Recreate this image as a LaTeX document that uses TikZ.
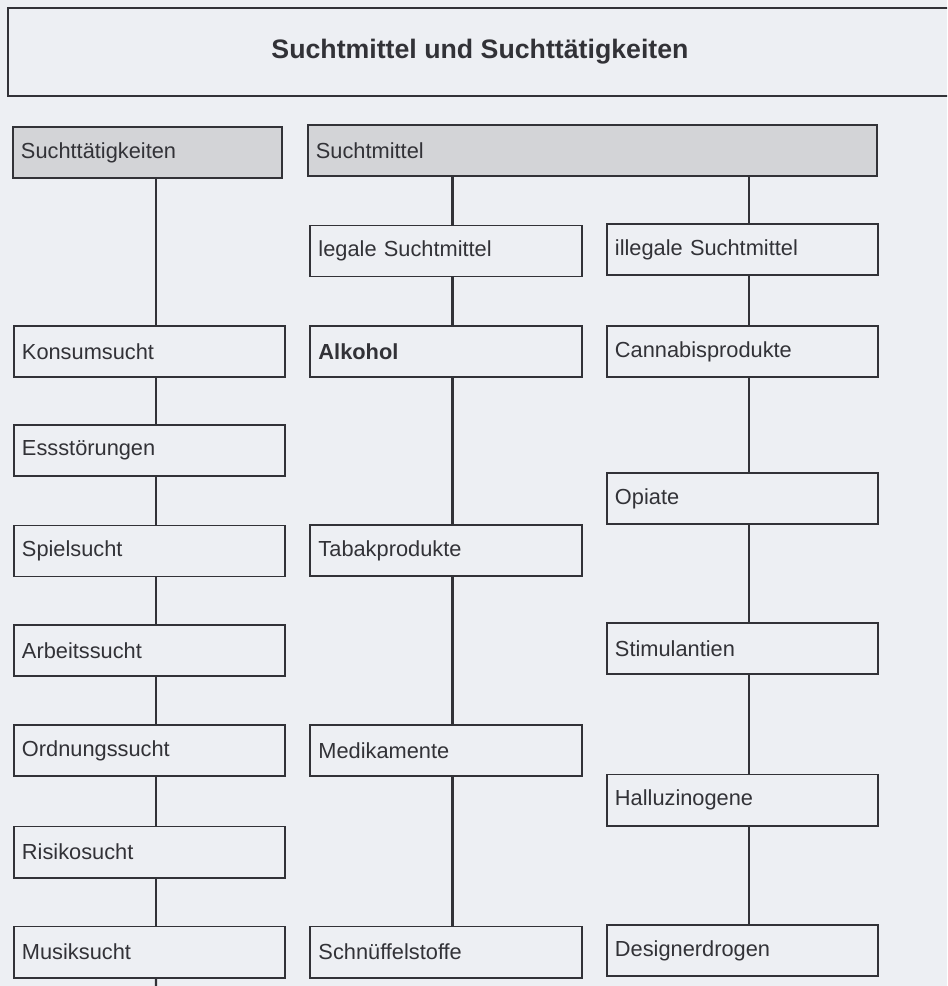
\documentclass[tikz,border=0pt]{standalone}
\usepackage{fontspec}
\setmainfont{Liberation Sans}
\usepackage{tikz}

\definecolor{paper}{RGB}{237,239,243}
\definecolor{headgray}{RGB}{211,212,215}
\definecolor{ink}{RGB}{50,50,55}

\tikzstyle{itembox}=[draw=ink,line width=1.4pt,text=ink,inner xsep=0.2cm,text width=6.375cm,align=left,minimum width=6.775cm,minimum height=1.275cm,font=\fontsize{15.5pt}{18pt}\selectfont]
\tikzstyle{headbox}=[itembox,fill=headgray]
\tikzstyle{titlebox}=[draw=ink,line width=1.8pt,text=ink,minimum width=23.6cm,minimum height=2.2cm,font=\fontsize{19pt}{22pt}\selectfont\bfseries]
\tikzstyle{connline}=[draw=ink,line width=1.6pt]
\tikzstyle{lineoff}=[xshift=0.16cm]

\begin{document}
\begin{tikzpicture}[x=0.025cm,y=-0.025cm]

\useasboundingbox (0,0) rectangle (947,986);
\clip (0,0) rectangle (947,986);
\fill[paper] (0,0) rectangle (947,986);

\node[titlebox] (TITLE) at (480,52) {Suchtmittel und Suchttätigkeiten};

\node[headbox,minimum width=6.725cm,text width=6.325cm] (HT) at (147.5,152.5) {Suchttätigkeiten};
\node[headbox,minimum width=14.225cm,text width=13.825cm] (HM) at (592.5,150.5) {Suchtmittel};

% Suchttaetigkeiten
\node[itembox] (T1) at (149.5,351.5) {Konsumsucht};
\node[itembox] (T2) at (149.5,450.5) {Essstörungen};
\node[itembox] (T3) at (149.5,551) {Spielsucht};
\node[itembox] (T4) at (149.5,650.5) {Arbeitssucht};
\node[itembox] (T5) at (149.5,750.5) {Ordnungssucht};
\node[itembox] (T6) at (149.5,852) {Risikosucht};
\node[itembox] (T7) at (149.5,952) {Musiksucht};
\coordinate (TEND) at (155.9,990);

% legale Suchtmittel
\node[itembox] (L0) at (446,251) {legale Suchtmittel};
\node[itembox] (L1) at (446,351.5) {\bfseries Alkohol};
\node[itembox] (L2) at (446,550.5) {Tabakprodukte};
\node[itembox] (L3) at (446,750.5) {Medikamente};
\node[itembox] (L4) at (446,952) {Schnüffelstoffe};

% illegale Suchtmittel
\node[itembox] (I0) at (742.5,249.5) {illegale Suchtmittel};
\node[itembox] (I1) at (742.5,351.5) {Cannabisprodukte};
\node[itembox] (I2) at (742.5,498.5) {Opiate};
\node[itembox] (I3) at (742.5,648.5) {Stimulantien};
\node[itembox] (I4) at (742.5,800) {Halluzinogene};
\node[itembox] (I5) at (742.5,950.5) {Designerdrogen};

\draw[connline] ([lineoff]T1.north |- HT.south) -- ([lineoff]T1.north);
\draw[connline] ([lineoff]T1.south) -- ([lineoff]T2.north);
\draw[connline] ([lineoff]T2.south) -- ([lineoff]T3.north);
\draw[connline] ([lineoff]T3.south) -- ([lineoff]T4.north);
\draw[connline] ([lineoff]T4.south) -- ([lineoff]T5.north);
\draw[connline] ([lineoff]T5.south) -- ([lineoff]T6.north);
\draw[connline] ([lineoff]T6.south) -- ([lineoff]T7.north);
\draw[connline] ([lineoff]T7.south) -- (TEND);

\draw[connline] ([lineoff]L0.north |- HM.south) -- ([lineoff]L0.north);
\draw[connline] ([lineoff]L0.south) -- ([lineoff]L1.north);
\draw[connline] ([lineoff]L1.south) -- ([lineoff]L2.north);
\draw[connline] ([lineoff]L2.south) -- ([lineoff]L3.north);
\draw[connline] ([lineoff]L3.south) -- ([lineoff]L4.north);

\draw[connline] ([lineoff]I0.north |- HM.south) -- ([lineoff]I0.north);
\draw[connline] ([lineoff]I0.south) -- ([lineoff]I1.north);
\draw[connline] ([lineoff]I1.south) -- ([lineoff]I2.north);
\draw[connline] ([lineoff]I2.south) -- ([lineoff]I3.north);
\draw[connline] ([lineoff]I3.south) -- ([lineoff]I4.north);
\draw[connline] ([lineoff]I4.south) -- ([lineoff]I5.north);

\end{tikzpicture}
\end{document}
